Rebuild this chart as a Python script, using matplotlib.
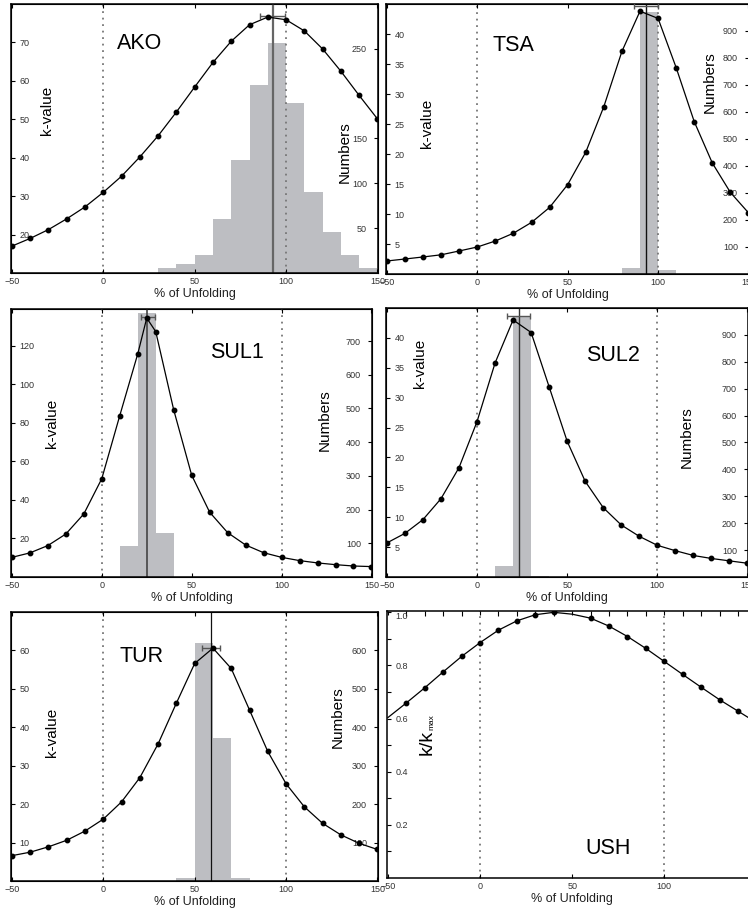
import matplotlib
matplotlib.use("Agg")
import matplotlib.pyplot as plt
from matplotlib.ticker import MultipleLocator, FixedLocator

plt.rcParams['font.family'] = ['Liberation Sans', 'DejaVu Sans']
plt.rcParams['mathtext.default'] = 'regular'

# ---------------- data ----------------
unfold = [-50, -40, -30, -20, -10, 0, 10, 20, 30, 40, 50, 60, 70, 80, 90, 100, 110, 120, 130, 140, 150]

ako_k = [17.0, 19.0, 21.3, 24.1, 27.2, 31.0, 35.2, 40.2, 45.7, 51.9, 58.4, 64.8, 70.3, 74.6, 76.6, 75.9, 73.0, 68.3, 62.5, 56.2, 50.1]
ako_bin_left = [30, 40, 50, 60, 70, 80, 90, 100, 110, 120, 130, 140]
ako_counts = [5.6, 10.4, 20.4, 60.4, 125.6, 210, 256, 190, 90.7, 45.5, 20.4, 5.6]

tsa_k = [2.17, 2.5, 2.84, 3.2, 3.84, 4.5, 5.5, 6.8, 8.6, 11.1, 14.9, 20.3, 27.9, 37.1, 43.8, 42.6, 34.4, 25.4, 18.5, 13.6, 10.2]
tsa_bin_left = [80, 90, 100]
tsa_counts = [22, 970, 13]

sul1_x = [-50, -40, -30, -20, -10, 0, 10, 20, 25, 30, 40, 50, 60, 70, 80, 90, 100, 110, 120, 130, 140, 150]
sul1_k = [10.2, 12.5, 16.3, 22.3, 32.7, 51.0, 83.7, 115.7, 134.3, 127.3, 86.7, 52.8, 33.6, 23.0, 16.6, 12.6, 10.2, 8.5, 7.3, 6.4, 5.7, 5.4]
sul1_bin_left = [10, 20, 30]
sul1_counts = [92, 782, 131]

sul2_k = [5.7, 7.3, 9.6, 13.1, 18.3, 26.0, 35.8, 43.0, 40.9, 31.8, 22.7, 16.0, 11.6, 8.7, 6.8, 5.3, 4.4, 3.6, 3.1, 2.7, 2.3]
sul2_bin_left = [10, 20, 30]
sul2_counts = [41, 972, 5]

tur_k = [6.6, 7.5, 8.9, 10.6, 13.0, 16.1, 20.6, 26.9, 35.7, 46.3, 56.6, 60.6, 55.3, 44.5, 33.7, 25.3, 19.3, 15.0, 12.0, 9.8, 8.2]
tur_bin_left = [40, 50, 60, 70]
tur_counts = [7, 620, 371, 7]

ush_k = [0.604, 0.659, 0.716, 0.776, 0.834, 0.886, 0.933, 0.968, 0.991, 1.0, 0.993, 0.978, 0.948, 0.909, 0.864, 0.815, 0.766, 0.718, 0.671, 0.628, 0.585]
ush_marked = [1, 2, 3, 4, 5, 6, 7, 8, 9, 11, 12, 13, 14, 15, 16, 17, 18, 19]

# peak (best unfolding) with its error bar: x, lo, hi, y
ako_peak = (92.7, 85.8, 99.6, 76.8)
tsa_peak = (93.4, 86.7, 99.8, 44.6)
sul1_peak = (24.9, 21.6, 29.5, 134.9)
sul2_peak = (23.1, 16.6, 29.2, 43.6)
tur_peak = (58.7, 54.1, 63.9, 60.6)

xticks = [-50, 0, 50, 100, 150]

W, H = 748, 918
fig = plt.figure(figsize=(W / 100, H / 100), dpi=100)

def box(x0, y0, x1, y1):
    return [x0 / W, 1 - y1 / H, (x1 - x0) / W, (y1 - y0) / H]

BAR = '#bdbec2'
TXT = '#333333'

panels = [
    dict(name='AKO', pos=box(11, 4, 378, 273), x=unfold, k=ako_k, kl=(10, 80), kt=[20, 30, 40, 50, 60, 70],
         bins=ako_bin_left, counts=ako_counts, nl=(0, 300), nt=[50, 100, 150, 250],
         peak=ako_peak, pc='#666666', plw=1.6, title=(0.351, 0.855), kv=(0.098, 0.606), nb=(0.910, 0.45)),
    dict(name='TSA', pos=box(386, 4, 749, 274), x=unfold, k=tsa_k, kl=(0, 45), kt=[5, 10, 15, 20, 25, 30, 35, 40],
         bins=tsa_bin_left, counts=tsa_counts, nl=(0, 1000), nt=[100, 200, 300, 400, 500, 600, 700, 800, 900],
         peak=tsa_peak, pc='#111111', plw=1.0, title=(0.35, 0.848), kv=(0.113, 0.559), nb=(0.893, 0.711)),
    dict(name='SUL1', pos=box(11, 309, 372, 577), x=sul1_x, k=sul1_k, kl=(0, 139), kt=[20, 40, 60, 80, 100, 120],
         bins=sul1_bin_left, counts=sul1_counts, nl=(0, 795), nt=[100, 200, 300, 400, 500, 600, 700],
         peak=sul1_peak, pc='#444444', plw=1.2, title=(0.626, 0.836), kv=(0.113, 0.575), nb=(0.870, 0.586)),
    dict(name='SUL2', pos=box(386, 308, 748, 577), x=unfold, k=sul2_k, kl=(0, 45), kt=[5, 10, 15, 20, 25, 30, 35, 40],
         bins=sul2_bin_left, counts=sul2_counts, nl=(0, 1000), nt=[100, 200, 300, 400, 500, 600, 700, 800, 900],
         peak=sul2_peak, pc='#333333', plw=1.0, title=(0.627, 0.825), kv=(0.094, 0.796), nb=(0.831, 0.52)),
    dict(name='TUR', pos=box(11, 612, 378, 881), x=unfold, k=tur_k, kl=(0, 70), kt=[10, 20, 30, 40, 50, 60],
         bins=tur_bin_left, counts=tur_counts, nl=(0, 700), nt=[100, 200, 300, 400, 500, 600],
         peak=tur_peak, pc='#111111', plw=0.9, title=(0.357, 0.833), kv=(0.112, 0.554), nb=(0.891, 0.61)),
]

def style_x(ax):
    ax.set_xlim(-50.5, 150.3)
    ax.set_xticks(xticks)
    ax.tick_params(axis='x', which='major', direction='in', top=True, bottom=True, length=3,
                   labelsize=6.5, labelcolor=TXT, pad=3, width=0.8)
    ax.set_xlabel('% of Unfolding', fontsize=9, labelpad=1.5, color='#222222')
    for s in ax.spines.values():
        s.set_linewidth(1.1)
    for v in (0, 100):
        ax.axvline(v, color='#777777', lw=1.3, ls=(0, (1, 2.6)), zorder=1)

for p in panels:
    ax = fig.add_axes(p['pos'])
    ax2 = ax.twinx()
    ax.set_zorder(ax2.get_zorder() + 1)
    ax.patch.set_visible(False)

    ax2.bar(p['bins'], p['counts'], width=10, align='edge', color=BAR, linewidth=0, zorder=1)
    ax2.set_ylim(*p['nl'])
    ax2.set_yticks(p['nt'])
    ax2.tick_params(axis='y', direction='in', length=3, labelsize=6.5, labelcolor=TXT, pad=-8, width=0.8)
    plt.setp(ax2.get_yticklabels(), ha='right')

    style_x(ax)
    ax.set_ylim(*p['kl'])
    ax.set_yticks(p['kt'])
    ax.tick_params(axis='y', direction='in', length=3, labelsize=6.5, labelcolor=TXT, pad=-6, width=0.8)
    plt.setp(ax.get_yticklabels(), ha='left')

    px, lo, hi, py = p['peak']
    ax.axvline(px, color=p['pc'], lw=p['plw'], zorder=2)
    ax.plot(p['x'], p['k'], color='black', lw=0.9, marker='o', ms=3.2, zorder=4)
    ax.errorbar([px], [py], xerr=[[px - lo], [hi - px]], fmt='none', ecolor='#555555',
                elinewidth=1.0, capsize=2.5, capthick=1.0, zorder=3)

    ax.text(*p['title'], p['name'], transform=ax.transAxes, fontsize=15.5, ha='center', va='center')
    ax.text(*p['kv'], 'k-value', transform=ax.transAxes, fontsize=11, rotation=90, ha='center', va='center')
    ax.text(*p['nb'], 'Numbers', transform=ax.transAxes, fontsize=11, rotation=90, ha='center', va='center')

# USH panel (normalised k, no histogram)
ax = fig.add_axes(box(387, 611, 757, 878))
style_x(ax)
ax.xaxis.set_minor_locator(MultipleLocator(10))
ax.tick_params(axis='x', which='minor', direction='in', top=True, bottom=False, length=3.5, width=0.8)
ax.set_ylim(0, 1.005)
ax.set_yticks([0.2, 0.4, 0.6, 0.8, 1.0])
ax.yaxis.set_minor_locator(FixedLocator([0.1, 0.3, 0.5, 0.7, 0.9]))
ax.tick_params(axis='y', which='both', direction='in', length=3, labelsize=6.5, labelcolor=TXT, pad=-6, width=0.8)
plt.setp(ax.get_yticklabels(), ha='left')
ax.get_yticklabels()[-1].set_va('top')
ax.plot(unfold, ush_k, color='black', lw=0.9, zorder=4)
ax.plot([unfold[i] for i in ush_marked], [ush_k[i] for i in ush_marked], ls='none',
        marker='o', ms=3.2, color='black', zorder=5)
ax.text(0.597, 0.112, 'USH', transform=ax.transAxes, fontsize=15.5, ha='center', va='center')
ax.text(0.108, 0.509, 'k/k', transform=ax.transAxes, fontsize=14, rotation=90, ha='center', va='center')
ax.text(0.122, 0.583, 'max', transform=ax.transAxes, fontsize=6, rotation=90, ha='center', va='center')

fig.savefig('out.png', dpi=100)
